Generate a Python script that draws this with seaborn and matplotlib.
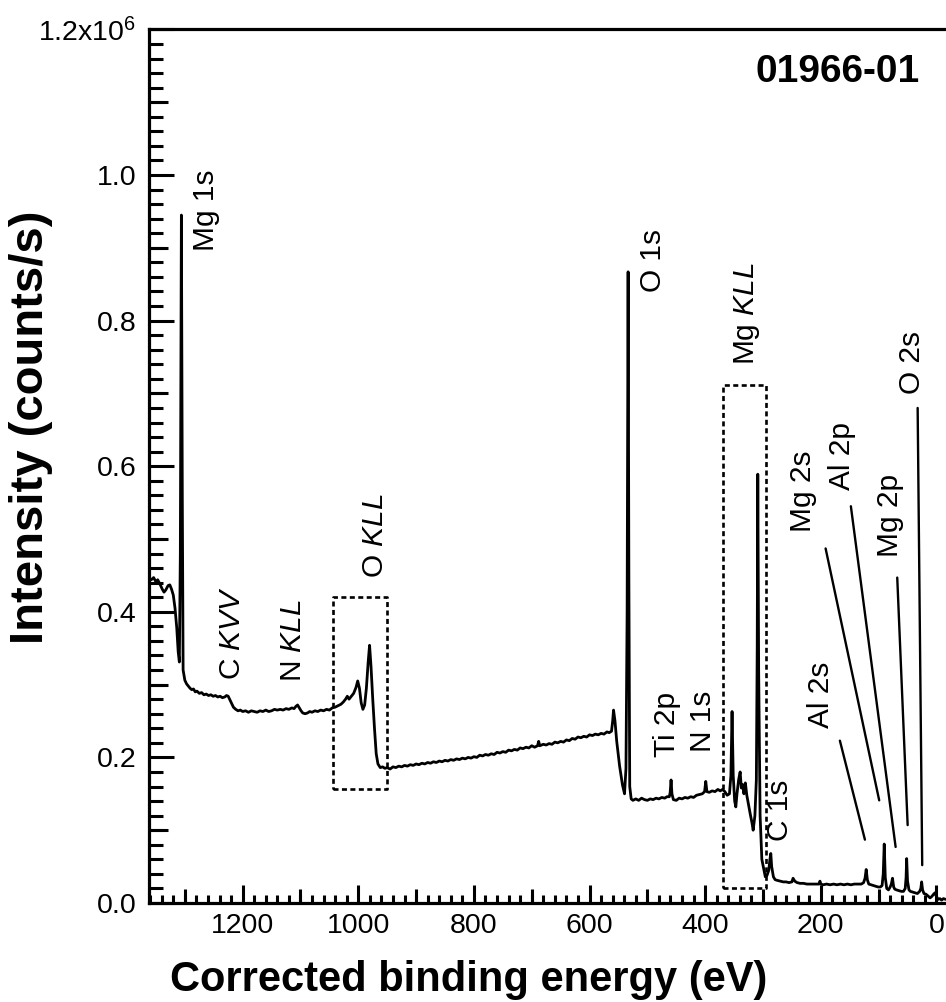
import matplotlib
matplotlib.use("Agg")
import matplotlib.pyplot as plt
import seaborn as sns
import pandas as pd
from matplotlib.ticker import FixedLocator, MultipleLocator

# XPS survey spectrum: binding energy (eV) and intensity (10^6 counts/s)
binding_energy_ev = [
    1362, 1358, 1354, 1350, 1347, 1343, 1339, 1336, 1333, 1329, 1326, 1323,
    1320, 1317, 1314, 1311.5, 1309.5, 1307.8, 1306.0, 1304.4, 1303, 1300,
    1297, 1294, 1291, 1288, 1285, 1282, 1279, 1275, 1271, 1267, 1263, 1259,
    1255, 1251, 1247, 1243, 1239, 1235, 1231, 1228, 1225, 1222, 1219, 1216,
    1212, 1208, 1204, 1200, 1195, 1190, 1185, 1180, 1175, 1170, 1165, 1160,
    1155, 1150, 1145, 1140, 1135, 1130, 1125, 1120, 1115, 1111, 1108, 1105,
    1102, 1099, 1096, 1092, 1088, 1084, 1080, 1075, 1070, 1065, 1060, 1055,
    1050, 1045, 1040, 1035, 1030, 1026, 1022, 1019, 1016, 1012, 1008, 1004,
    1001, 998, 995, 992, 989, 986, 983, 980.5, 978, 975, 972, 969, 966,
    962, 958, 954, 950, 945, 940, 935, 930, 925, 920, 915, 910, 905, 900,
    895, 890, 885, 880, 875, 870, 865, 860, 855, 850, 845, 840, 835, 830,
    825, 820, 815, 810, 805, 800, 795, 790, 785, 780, 775, 770, 765, 760,
    755, 750, 745, 740, 735, 730, 725, 720, 715, 710, 705, 700, 695, 690,
    688, 686, 680, 675, 670, 665, 660, 655, 650, 645, 640, 635, 630, 625,
    620, 615, 610, 605, 600, 595, 590, 585, 580, 575, 570, 566, 562, 560,
    558.5, 556, 553, 548, 543, 539.5, 537, 535, 533.3, 532, 530.5, 528,
    525, 520, 515, 510, 505, 500, 495, 490, 485, 480, 475, 470, 466, 462,
    460.5, 459, 457.5, 455, 450, 445, 440, 435, 430, 425, 420, 415, 410,
    405, 401, 399, 397, 393, 388, 383, 378, 374, 370, 366, 362, 358, 355.5,
    353.5, 351.5, 349, 347, 345, 342, 339.5, 337.5, 335.5, 333, 330.5, 328,
    325, 322, 319, 317, 314, 311.5, 310, 309, 307.5, 305, 302, 299, 296,
    293, 290, 288, 286.5, 285, 282, 279, 275, 270, 265, 260, 255, 250, 248,
    245, 241, 236, 230, 224, 218, 212, 206, 203, 201.5, 200, 196, 190, 184,
    178, 172, 166, 160, 154, 148, 142, 136, 130, 126, 123.5, 121.5, 119.5,
    117, 113, 109, 105, 101, 97, 94, 92, 90.3, 88.5, 86, 83, 80, 78, 76,
    74, 72, 69, 65, 61, 57, 54, 52.5, 51.5, 50, 47.5, 45, 41, 37, 33, 29,
    27, 25.6, 24, 21.5, 18, 15, 11, 8, 5, 2.5, 0, -3, -6, -9, -12, -16,
]
intensity_1e6 = [
    0.446, 0.444, 0.447, 0.441, 0.444, 0.438, 0.431, 0.427, 0.430, 0.436, 0.437, 0.431,
    0.423, 0.405, 0.378, 0.345, 0.331, 0.480, 0.945, 0.560, 0.320, 0.306,
    0.301, 0.298, 0.295, 0.293, 0.294, 0.290, 0.291, 0.288, 0.289, 0.286, 0.287, 0.285,
    0.286, 0.284, 0.285, 0.283, 0.284, 0.282, 0.283, 0.285, 0.284, 0.279, 0.274, 0.269,
    0.266, 0.264, 0.265, 0.263, 0.264, 0.262, 0.264, 0.263, 0.262, 0.264, 0.263, 0.265,
    0.263, 0.264, 0.266, 0.265, 0.266, 0.265, 0.267, 0.266, 0.268, 0.267, 0.270, 0.272,
    0.268, 0.264, 0.261, 0.260, 0.261, 0.263, 0.262, 0.264, 0.263, 0.265, 0.264, 0.266,
    0.265, 0.268, 0.269, 0.271, 0.273, 0.276, 0.280, 0.284, 0.280, 0.284, 0.288, 0.296,
    0.305, 0.295, 0.275, 0.266, 0.272, 0.295, 0.330, 0.354, 0.325, 0.280, 0.240, 0.205, 0.191,
    0.186, 0.187, 0.185, 0.186, 0.184, 0.187, 0.186, 0.188, 0.187, 0.189, 0.188, 0.190, 0.189, 0.191,
    0.190, 0.192, 0.191, 0.193, 0.192, 0.194, 0.193, 0.195, 0.194, 0.196, 0.195, 0.197, 0.196, 0.198,
    0.197, 0.199, 0.198, 0.200, 0.199, 0.201, 0.200, 0.203, 0.202, 0.204, 0.203, 0.205, 0.204, 0.207,
    0.206, 0.208, 0.207, 0.210, 0.209, 0.211, 0.210, 0.213, 0.212, 0.214, 0.213, 0.216, 0.214, 0.216,
    0.222, 0.216, 0.218, 0.217, 0.219, 0.218, 0.221, 0.220, 0.222, 0.221, 0.224, 0.223, 0.226, 0.225,
    0.228, 0.227, 0.229, 0.228, 0.231, 0.230, 0.232, 0.231, 0.233, 0.232, 0.235, 0.234, 0.236, 0.250,
    0.265, 0.250, 0.222, 0.188, 0.162, 0.150, 0.185, 0.400, 0.867, 0.450, 0.160, 0.143,
    0.141, 0.143, 0.141, 0.144, 0.142, 0.141, 0.143, 0.142, 0.144, 0.143, 0.145, 0.144, 0.146, 0.146,
    0.152, 0.169, 0.150, 0.142, 0.141, 0.144, 0.143, 0.145, 0.144, 0.146, 0.145, 0.148, 0.149,
    0.150, 0.153, 0.167, 0.153, 0.152, 0.154, 0.153, 0.156, 0.154, 0.156, 0.153, 0.148, 0.150, 0.175,
    0.263, 0.175, 0.140, 0.132, 0.150, 0.170, 0.180, 0.158, 0.163, 0.150, 0.165, 0.148, 0.135,
    0.122, 0.110, 0.100, 0.120, 0.169, 0.350, 0.589, 0.320, 0.120, 0.060, 0.048, 0.036,
    0.038, 0.045, 0.060, 0.068, 0.050, 0.036, 0.032, 0.031, 0.030, 0.029, 0.029, 0.028, 0.029, 0.034,
    0.030, 0.028, 0.027, 0.027, 0.026, 0.026, 0.026, 0.026, 0.026, 0.030, 0.026, 0.025, 0.026, 0.025,
    0.026, 0.025, 0.026, 0.025, 0.026, 0.025, 0.026, 0.026, 0.026, 0.028, 0.034, 0.046, 0.032,
    0.026, 0.025, 0.024, 0.023, 0.022, 0.022, 0.024, 0.040, 0.081, 0.035, 0.020, 0.018, 0.022, 0.026, 0.034,
    0.022, 0.019, 0.018, 0.017, 0.016, 0.016, 0.020, 0.035, 0.061, 0.030, 0.018, 0.016, 0.015, 0.014, 0.013, 0.016,
    0.020, 0.029, 0.018, 0.013, 0.012, 0.010, 0.007, 0.009, 0.012, 0.014, 0.009, 0.005, 0.006, 0.004, 0.006, 0.005,
]

# Peak assignments and where their names sit (eV, 10^6 counts/s)
peak_names = [
    "Mg 1s", r"C $\mathit{KVV}$", r"N $\mathit{KLL}$", r"O $\mathit{KLL}$",
    "O 1s", r"Mg $\mathit{KLL}$", "Ti 2p", "N 1s", "C 1s", "Al 2s",
    "Mg 2s", "Al 2p", "Mg 2p", "O 2s",
]
peak_label_ev = [1264, 1219, 1113, 971, 490.5, 328, 466, 404, 271, 200,
                 230, 162.6, 80.4, 43]
peak_label_int = [0.952, 0.371, 0.360, 0.504, 0.883, 0.809, 0.245, 0.249,
                  0.128, 0.286, 0.565, 0.614, 0.533, 0.743]

# Leader lines from the crowded low-energy labels down to their peaks
leader_from_ev = [191.7, 148.0, 67.8, 32.5, 167.0]
leader_from_int = [0.487, 0.545, 0.447, 0.680, 0.223]
leader_to_ev = [99.0, 70.6, 49.8, 24.6, 123.7]
leader_to_int = [0.141, 0.077, 0.107, 0.052, 0.087]

# Dashed frames around the Auger regions (O KLL, Mg KLL)
box_left_ev = [1044.6, 369.4]
box_right_ev = [949.5, 294.6]
box_low = [0.157, 0.020]
box_high = [0.421, 0.711]

x_tick_values = [1200, 1000, 800, 600, 400, 200, 0]
x_tick_labels = ["1200", "1000", "800", "600", "400", "200", "0"]
x_mid_ticks = [1300, 1100, 900, 700, 500, 300, 100]
y_tick_values = [0.0, 0.2, 0.4, 0.6, 0.8, 1.0, 1.2]
y_tick_labels = ["0.0", "0.2", "0.4", "0.6", "0.8", "1.0", r"1.2x10$^{6}$"]
y_mid_ticks = [0.1, 0.3, 0.5, 0.7, 0.9, 1.1]

sample_id = "01966-01"
x_title = "Corrected binding energy (eV)"
y_title = "Intensity (counts/s)"

sns.set_style("ticks")
plt.rcParams["font.family"] = ["Liberation Sans", "DejaVu Sans"]
plt.rcParams["mathtext.fontset"] = "custom"
plt.rcParams["mathtext.rm"] = "Liberation Sans"
plt.rcParams["mathtext.it"] = "Liberation Sans:italic"
plt.rcParams["mathtext.bf"] = "Liberation Sans:bold"
for key in ["text.color", "axes.labelcolor", "xtick.color", "ytick.color",
            "xtick.labelcolor", "ytick.labelcolor", "axes.edgecolor"]:
    plt.rcParams[key] = "black"

W, H = 946, 1002
fig = plt.figure(figsize=(W / 100, H / 100), dpi=100)
ax = fig.add_axes([149 / W, 1 - 903 / H, (948 - 149) / W, (903 - 29.4) / H])

spec = pd.DataFrame({"energy": binding_energy_ev, "intensity": intensity_1e6})
sns.lineplot(data=spec, x="energy", y="intensity", sort=False, estimator=None,
             color="black", linewidth=2.0, ax=ax)

ax.set_xlim(1362, -20)
ax.set_ylim(0, 1.2)
ax.set_xlabel("")
ax.set_ylabel("")

for side in ["left", "bottom", "top"]:
    ax.spines[side].set_linewidth(2.3)
    ax.spines[side].set_color("black")
ax.spines["right"].set_visible(False)

ax.xaxis.set_major_locator(FixedLocator(x_tick_values))
ax.set_xticklabels(x_tick_labels)
ax.xaxis.set_minor_locator(MultipleLocator(20))
ax.yaxis.set_major_locator(FixedLocator(y_tick_values))
ax.set_yticklabels(y_tick_labels)
ax.yaxis.set_minor_locator(MultipleLocator(0.02))

ax.tick_params(which="both", direction="in", width=2.2, color="black",
               labelcolor="black", top=False, right=False)
ax.tick_params(axis="x", which="major", length=13, pad=7, labelsize=20.5)
ax.tick_params(axis="x", which="minor", length=6)
ax.tick_params(axis="y", which="major", length=18, pad=9, labelsize=20.5)
ax.tick_params(axis="y", which="minor", length=10)

# intermediate tick level (every 100 eV / 0.1)
secx = ax.secondary_xaxis("bottom")
secx.set_xticks(x_mid_ticks)
secx.tick_params(direction="in", length=10, width=2.2, color="black",
                 labelbottom=False)
secx.spines["bottom"].set_visible(False)
secy = ax.secondary_yaxis("left")
secy.set_yticks(y_mid_ticks)
secy.tick_params(direction="in", length=14, width=2.2, color="black",
                 labelleft=False)
secy.spines["left"].set_visible(False)

for l, r, lo, hi in zip(box_left_ev, box_right_ev, box_low, box_high):
    ax.plot([l, r, r, l, l], [lo, lo, hi, hi, lo], color="black",
            linewidth=1.9, linestyle=(0, (1.9, 1.3)))

for x0, y0, x1, y1 in zip(leader_from_ev, leader_from_int, leader_to_ev, leader_to_int):
    ax.plot([x0, x1], [y0, y1], color="black", linewidth=1.7)

for name, e, v in zip(peak_names, peak_label_ev, peak_label_int):
    ax.text(e, v, name, rotation=90, ha="center", va="center",
            fontsize=21.5, color="black")

ax.text(0.965, 0.951, sample_id, transform=ax.transAxes, ha="right",
        va="center", fontsize=28, fontweight="bold", color="black")

fig.text(469 / W, 1 - 980 / H, x_title, ha="center", va="center",
         fontsize=30, fontweight="bold", color="black")
fig.text(31 / W, 1 - 427 / H, y_title, rotation=90, ha="center", va="center",
         fontsize=34, fontweight="bold", color="black")

fig.savefig("out.png", dpi=100)
